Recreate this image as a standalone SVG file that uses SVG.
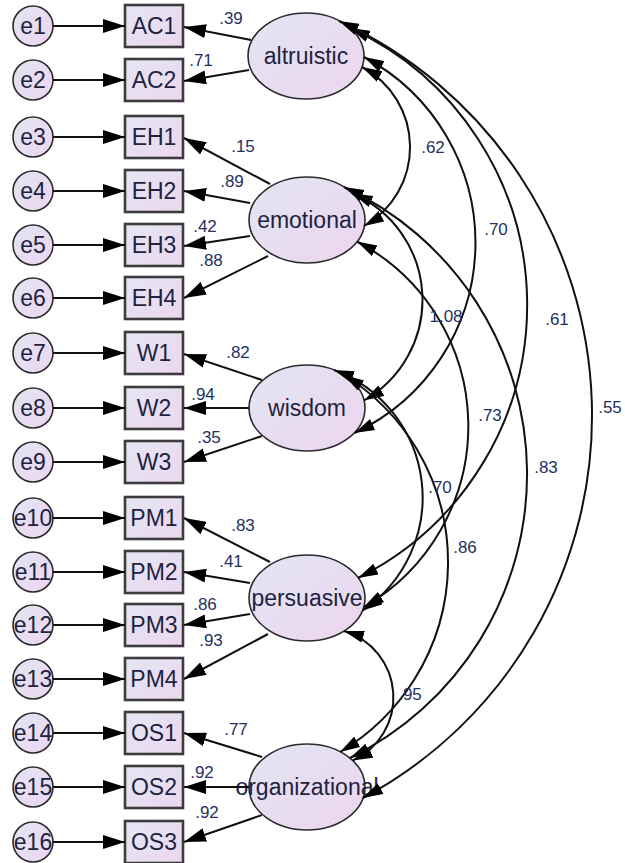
<svg xmlns="http://www.w3.org/2000/svg" width="625" height="863" viewBox="0 0 625 863">
  <defs>
    <linearGradient id="fillLatent" x1="0" y1="0" x2="1" y2="1">
      <stop offset="0" stop-color="#e2e5f3"/>
      <stop offset="1" stop-color="#edd5ef"/>
    </linearGradient>
    <linearGradient id="fillObs" x1="0" y1="0" x2="1" y2="1">
      <stop offset="0" stop-color="#e4e6f3"/>
      <stop offset="1" stop-color="#ecd7ef"/>
    </linearGradient>
    <marker id="head" viewBox="0 0 22 14" refX="22" refY="7" markerWidth="22" markerHeight="14" orient="auto-start-reverse" markerUnits="userSpaceOnUse">
      <path d="M0,0 L22,7 L0,14 z" fill="#000"/>
    </marker>
    <marker id="headCov" viewBox="0 0 20 12" refX="20" refY="6" markerWidth="20" markerHeight="12" orient="auto-start-reverse" markerUnits="userSpaceOnUse">
      <path d="M0,0 L20,6 L0,12 z" fill="#000"/>
    </marker>
  </defs>
  <style>
    .err { fill: url(#fillLatent); stroke: #2a2a2a; stroke-width: 1.6; }
    .obs { fill: url(#fillObs); stroke: #3c3c3c; stroke-width: 2.6; }
    .lat { fill: url(#fillLatent); stroke: #2a2a2a; stroke-width: 1.6; }
    .nt { font-family: "Liberation Sans", Arial, sans-serif; font-size: 23px; fill: #1d2340; text-anchor: middle; }
    .lbl { font-family: "Liberation Sans", Arial, sans-serif; font-size: 17px; fill: #1f3160; text-anchor: middle; }
    .path { fill: none; stroke: #111; stroke-width: 2; marker-end: url(#head); }
    .cov { fill: none; stroke: #111; stroke-width: 2; marker-start: url(#headCov); marker-end: url(#headCov); }
  </style>

  <!-- error terms -->
  <g id="e1"><circle class="err" cx="33" cy="26" r="20"/><text class="nt" x="33" y="34">e1</text></g>
  <g id="e2"><circle class="err" cx="33" cy="80" r="20"/><text class="nt" x="33" y="88">e2</text></g>
  <g id="e3"><circle class="err" cx="33" cy="137" r="20"/><text class="nt" x="33" y="145">e3</text></g>
  <g id="e4"><circle class="err" cx="33" cy="191" r="20"/><text class="nt" x="33" y="199">e4</text></g>
  <g id="e5"><circle class="err" cx="33" cy="245" r="20"/><text class="nt" x="33" y="253">e5</text></g>
  <g id="e6"><circle class="err" cx="33" cy="298" r="20"/><text class="nt" x="33" y="306">e6</text></g>
  <g id="e7"><circle class="err" cx="33" cy="353" r="20"/><text class="nt" x="33" y="361">e7</text></g>
  <g id="e8"><circle class="err" cx="33" cy="408" r="20"/><text class="nt" x="33" y="416">e8</text></g>
  <g id="e9"><circle class="err" cx="33" cy="462" r="20"/><text class="nt" x="33" y="470">e9</text></g>
  <g id="e10"><circle class="err" cx="33" cy="518" r="20"/><text class="nt" x="33" y="526">e10</text></g>
  <g id="e11"><circle class="err" cx="33" cy="572" r="20"/><text class="nt" x="33" y="580">e11</text></g>
  <g id="e12"><circle class="err" cx="33" cy="625" r="20"/><text class="nt" x="33" y="633">e12</text></g>
  <g id="e13"><circle class="err" cx="33" cy="679" r="20"/><text class="nt" x="33" y="687">e13</text></g>
  <g id="e14"><circle class="err" cx="33" cy="733" r="20"/><text class="nt" x="33" y="741">e14</text></g>
  <g id="e15"><circle class="err" cx="33" cy="787" r="20"/><text class="nt" x="33" y="795">e15</text></g>
  <g id="e16"><circle class="err" cx="33" cy="842" r="20"/><text class="nt" x="33" y="850">e16</text></g>

  <!-- observed indicators -->
  <g id="AC1"><rect class="obs" x="125" y="5" width="58" height="42"/><text class="nt" x="154" y="34">AC1</text></g>
  <g id="AC2"><rect class="obs" x="125" y="59" width="58" height="42"/><text class="nt" x="154" y="88">AC2</text></g>
  <g id="EH1"><rect class="obs" x="125" y="116" width="58" height="42"/><text class="nt" x="154" y="145">EH1</text></g>
  <g id="EH2"><rect class="obs" x="125" y="170" width="58" height="42"/><text class="nt" x="154" y="199">EH2</text></g>
  <g id="EH3"><rect class="obs" x="125" y="224" width="58" height="42"/><text class="nt" x="154" y="253">EH3</text></g>
  <g id="EH4"><rect class="obs" x="125" y="277" width="58" height="42"/><text class="nt" x="154" y="306">EH4</text></g>
  <g id="W1"><rect class="obs" x="125" y="332" width="58" height="42"/><text class="nt" x="154" y="361">W1</text></g>
  <g id="W2"><rect class="obs" x="125" y="387" width="58" height="42"/><text class="nt" x="154" y="416">W2</text></g>
  <g id="W3"><rect class="obs" x="125" y="441" width="58" height="42"/><text class="nt" x="154" y="470">W3</text></g>
  <g id="PM1"><rect class="obs" x="125" y="497" width="58" height="42"/><text class="nt" x="154" y="526">PM1</text></g>
  <g id="PM2"><rect class="obs" x="125" y="551" width="58" height="42"/><text class="nt" x="154" y="580">PM2</text></g>
  <g id="PM3"><rect class="obs" x="125" y="604" width="58" height="42"/><text class="nt" x="154" y="633">PM3</text></g>
  <g id="PM4"><rect class="obs" x="125" y="658" width="58" height="42"/><text class="nt" x="154" y="687">PM4</text></g>
  <g id="OS1"><rect class="obs" x="125" y="712" width="58" height="42"/><text class="nt" x="154" y="741">OS1</text></g>
  <g id="OS2"><rect class="obs" x="125" y="766" width="58" height="42"/><text class="nt" x="154" y="795">OS2</text></g>
  <g id="OS3"><rect class="obs" x="125" y="821" width="58" height="42"/><text class="nt" x="154" y="850">OS3</text></g>

  <!-- latent factors -->
  <g id="altruistic"><ellipse class="lat" cx="306" cy="56" rx="58" ry="43"/><text class="nt" x="306" y="64">altruistic</text></g>
  <g id="emotional"><ellipse class="lat" cx="307" cy="220" rx="58" ry="43"/><text class="nt" x="307" y="228">emotional</text></g>
  <g id="wisdom"><ellipse class="lat" cx="307" cy="408" rx="58" ry="43"/><text class="nt" x="307" y="416">wisdom</text></g>
  <g id="persuasive"><ellipse class="lat" cx="307" cy="598" rx="58" ry="43"/><text class="nt" x="307" y="606">persuasive</text></g>
  <g id="organizational"><ellipse class="lat" cx="307" cy="787" rx="58" ry="43"/><text class="nt" x="307" y="795">organizational</text></g>

  <!-- connectors -->
  <g id="connectors">
    <!-- error paths -->
    <path class="path" d="M53,26 H125"/>
    <path class="path" d="M53,80 H125"/>
    <path class="path" d="M53,137 H125"/>
    <path class="path" d="M53,191 H125"/>
    <path class="path" d="M53,245 H125"/>
    <path class="path" d="M53,298 H125"/>
    <path class="path" d="M53,353 H125"/>
    <path class="path" d="M53,408 H125"/>
    <path class="path" d="M53,462 H125"/>
    <path class="path" d="M53,518 H125"/>
    <path class="path" d="M53,572 H125"/>
    <path class="path" d="M53,625 H125"/>
    <path class="path" d="M53,679 H125"/>
    <path class="path" d="M53,733 H125"/>
    <path class="path" d="M53,787 H125"/>
    <path class="path" d="M53,842 H125"/>

    <!-- factor loadings -->
    <path class="path" d="M251,40 L184,27"/>
    <path class="path" d="M249,70 L184,81"/>
    <path class="path" d="M270,184 L184,138"/>
    <path class="path" d="M250,203 L184,191"/>
    <path class="path" d="M250,236 L184,246"/>
    <path class="path" d="M268,256 L184,298"/>
    <path class="path" d="M262,380 L184,354"/>
    <path class="path" d="M249,408 L184,408"/>
    <path class="path" d="M262,436 L184,462"/>
    <path class="path" d="M270,562 L184,518"/>
    <path class="path" d="M250,583 L184,572"/>
    <path class="path" d="M250,614 L184,625"/>
    <path class="path" d="M268,634 L184,679"/>
    <path class="path" d="M262,757 L184,733"/>
    <path class="path" d="M249,787 L184,787"/>
    <path class="path" d="M262,815 L184,842"/>

    <!-- covariances -->
    <path class="cov" d="M362,67 A90.7,90.7 0 0 1 364,226"/>
    <path class="cov" d="M364,57 A210.3,210.3 0 0 1 354.5,433"/>
    <path class="cov" d="M350,28 A305,305 0 0 1 358,578"/>
    <path class="cov" d="M339,21 A434,434 0 0 1 363,798"/>
    <path class="cov" d="M352.7,193.5 A115.9,115.9 0 0 1 364,400.5"/>
    <path class="cov" d="M357,241.5 A208.7,208.7 0 0 1 363.7,607"/>
    <path class="cov" d="M344,187 A316.4,316.4 0 0 1 350,758"/>
    <path class="cov" d="M334,370 A136.2,136.2 0 0 1 362.5,610.6"/>
    <path class="cov" d="M344,375 A220.6,220.6 0 0 1 340,752"/>
    <path class="cov" d="M344,631 A69.3,69.3 0 0 1 352.7,760.5"/>
  </g>

  <!-- estimates -->
  <g id="estimates">
    <text class="lbl" x="231" y="24">.39</text>
    <text class="lbl" x="201" y="66">.71</text>
    <text class="lbl" x="243" y="152">.15</text>
    <text class="lbl" x="232" y="187">.89</text>
    <text class="lbl" x="205" y="232">.42</text>
    <text class="lbl" x="211" y="266">.88</text>
    <text class="lbl" x="238" y="358">.82</text>
    <text class="lbl" x="203" y="400">.94</text>
    <text class="lbl" x="209" y="443">.35</text>
    <text class="lbl" x="243" y="531">.83</text>
    <text class="lbl" x="231" y="567">.41</text>
    <text class="lbl" x="205" y="610">.86</text>
    <text class="lbl" x="211" y="646">.93</text>
    <text class="lbl" x="236" y="735">.77</text>
    <text class="lbl" x="202" y="778">.92</text>
    <text class="lbl" x="207" y="818">.92</text>
    <text class="lbl" x="433" y="153">.62</text>
    <text class="lbl" x="496" y="235">.70</text>
    <text class="lbl" x="557" y="325">.61</text>
    <text class="lbl" x="610" y="413">.55</text>
    <text class="lbl" x="446" y="322">1.08</text>
    <text class="lbl" x="490" y="421">.73</text>
    <text class="lbl" x="546" y="473">.83</text>
    <text class="lbl" x="440" y="493">.70</text>
    <text class="lbl" x="465" y="553">.86</text>
    <text class="lbl" x="410" y="700">.95</text>
  </g>
</svg>
